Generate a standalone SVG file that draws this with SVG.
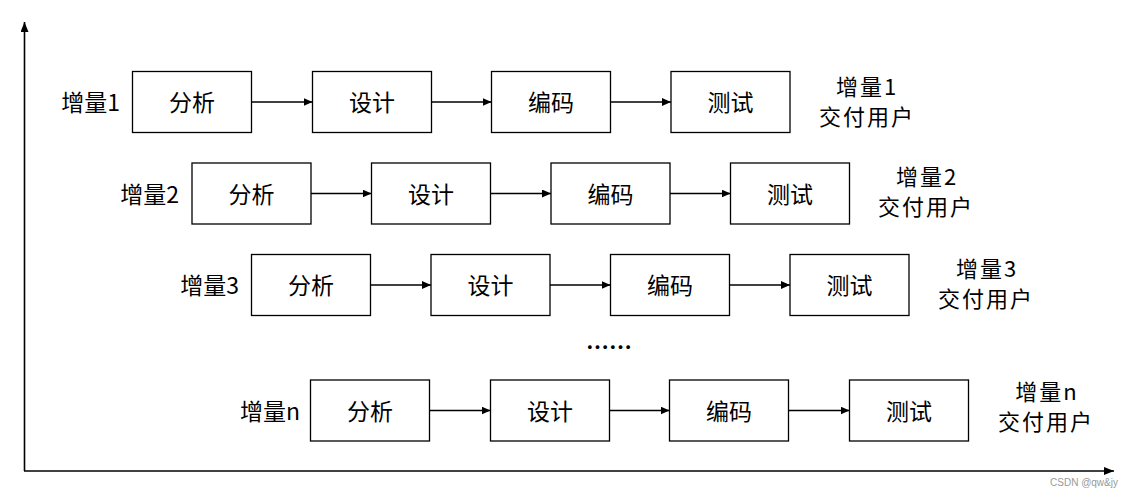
<svg xmlns="http://www.w3.org/2000/svg" width="1131" height="498" viewBox="0 0 1131 498">
<style>
.box{fill:#fff;stroke:#000;stroke-width:1.3}
.t{font-family:"Noto Sans CJK SC","Microsoft YaHei",sans-serif;font-size:23px;fill:#000;dominant-baseline:central}
.s{font-size:22px;letter-spacing:2px}
.c{text-anchor:middle}
.r{text-anchor:end}
.ln{stroke:#000;stroke-width:1.3;fill:none;marker-end:url(#ah)}
.ax{stroke:#000;stroke-width:1.6;fill:none;marker-end:url(#ah2)}
.wm{font-family:"Liberation Sans",Arial,sans-serif;font-size:10px;fill:#999}
</style>
<defs>
<marker id="ah" markerWidth="9" markerHeight="8" refX="9" refY="4" orient="auto" markerUnits="userSpaceOnUse"><path d="M0,0 L9,4 L0,8 Z" fill="#000"/></marker>
<marker id="ah2" markerWidth="10" markerHeight="8" refX="10" refY="4" orient="auto" markerUnits="userSpaceOnUse"><path d="M0,0 L10,4 L0,8 Z" fill="#000"/></marker>
</defs>
<rect width="1131" height="498" fill="#fff"/>
<g id="axes">
<path class="ax" d="M24.5,471 L24.5,22"/>
<path class="ax" d="M24,471 L1114,471"/>
</g>
<g id="connectors">
<path class="ln" d="M251.5,102 L312.5,102"/>
<path class="ln" d="M431,102 L491.5,102"/>
<path class="ln" d="M610.5,102 L671,102"/>
<path class="ln" d="M311,193.5 L371.5,193.5"/>
<path class="ln" d="M490.5,193.5 L551,193.5"/>
<path class="ln" d="M669.5,193.5 L730.5,193.5"/>
<path class="ln" d="M370.5,285 L431,285"/>
<path class="ln" d="M549.5,285 L610.5,285"/>
<path class="ln" d="M729,285 L790,285"/>
<path class="ln" d="M429.5,410.5 L490.5,410.5"/>
<path class="ln" d="M609,410.5 L669.5,410.5"/>
<path class="ln" d="M788.5,410.5 L849.5,410.5"/>
</g>
<g id="row1">
<text class="t r" x="120" y="101">增量1</text>
<g id="r1a"><rect class="box" x="132.5" y="71.5" width="119" height="61"/><text class="t c" x="192" y="101">分析</text></g>
<g id="r1b"><rect class="box" x="312.5" y="71.5" width="119" height="61"/><text class="t c" x="372" y="101">设计</text></g>
<g id="r1c"><rect class="box" x="491.5" y="71.5" width="119" height="61"/><text class="t c" x="551" y="101">编码</text></g>
<g id="r1d"><rect class="box" x="671" y="71.5" width="119" height="61"/><text class="t c" x="730.5" y="101">测试</text></g>
<text class="t s c" x="867" y="84.5">增量1</text>
<text class="t s c" x="867" y="115">交付用户</text>
</g>
<g id="row2">
<text class="t r" x="179" y="192.5">增量2</text>
<g id="r2a"><rect class="box" x="192" y="163" width="119" height="61"/><text class="t c" x="251.5" y="192.5">分析</text></g>
<g id="r2b"><rect class="box" x="371.5" y="163" width="119" height="61"/><text class="t c" x="431" y="192.5">设计</text></g>
<g id="r2c"><rect class="box" x="551" y="163" width="119" height="61"/><text class="t c" x="610.5" y="192.5">编码</text></g>
<g id="r2d"><rect class="box" x="730.5" y="163" width="119" height="61"/><text class="t c" x="790" y="192.5">测试</text></g>
<text class="t s c" x="927" y="174.5">增量2</text>
<text class="t s c" x="926" y="205">交付用户</text>
</g>
<g id="row3">
<text class="t r" x="239" y="284">增量3</text>
<g id="r3a"><rect class="box" x="251.5" y="254.5" width="119" height="61"/><text class="t c" x="311" y="284">分析</text></g>
<g id="r3b"><rect class="box" x="431" y="254.5" width="119" height="61"/><text class="t c" x="490.5" y="284">设计</text></g>
<g id="r3c"><rect class="box" x="610.5" y="254.5" width="119" height="61"/><text class="t c" x="670" y="284">编码</text></g>
<g id="r3d"><rect class="box" x="790" y="254.5" width="119" height="61"/><text class="t c" x="849.5" y="284">测试</text></g>
<text class="t s c" x="987" y="266.5">增量3</text>
<text class="t s c" x="986" y="297">交付用户</text>
</g>
<text class="t c" x="609" y="346" font-weight="bold">……</text>
<g id="rown">
<text class="t r" x="300" y="409.5">增量n</text>
<g id="rna"><rect class="box" x="310.5" y="380" width="119" height="61"/><text class="t c" x="370" y="409.5">分析</text></g>
<g id="rnb"><rect class="box" x="490.5" y="380" width="119" height="61"/><text class="t c" x="550" y="409.5">设计</text></g>
<g id="rnc"><rect class="box" x="669.5" y="380" width="119" height="61"/><text class="t c" x="729" y="409.5">编码</text></g>
<g id="rnd"><rect class="box" x="849.5" y="380" width="119" height="61"/><text class="t c" x="909" y="409.5">测试</text></g>
<text class="t s c" x="1047" y="389.5">增量n</text>
<text class="t s c" x="1046" y="420">交付用户</text>
</g>
<text class="wm" x="1118" y="486" text-anchor="end">CSDN @qw&amp;jy</text>
</svg>
